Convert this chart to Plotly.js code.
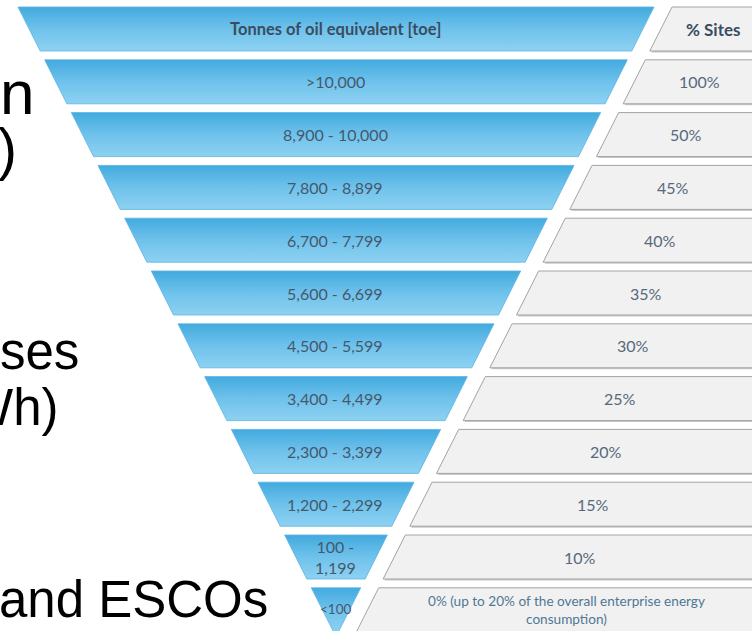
<!DOCTYPE html>
<html><head><meta charset="utf-8">
<script src="https://cdn.plot.ly/plotly-3.0.1.min.js"></script>
<style>html,body{margin:0;padding:0;background:#fff;overflow:hidden}#chart{width:752px;height:631px}</style>
</head><body><div id="chart"></div>
<script>
// ---- data ----
const headerLeft = "Tonnes of oil equivalent [toe]";
const headerRight = "% Sites";
const consumptionBands = [">10,000", "8,900 - 10,000", "7,800 - 8,899", "6,700 - 7,799", "5,600 - 6,699",
  "4,500 - 5,599", "3,400 - 4,499", "2,300 - 3,399", "1,200 - 2,299", "100 -\n1,199", "<100"];
const sitesShare = ["100%", "50%", "45%", "40%", "35%", "30%", "25%", "20%", "15%", "10%",
  "0% (up to 20% of the overall enterprise energy\nconsumption)"];
const slideFragments = ["n", ")", "ses", "Wh)", "and ESCOs"];

// ---- geometry / style ----
const W = 752, H = 631;
const TOP = 7, PITCH = 52.8, ROWH = 44, SLOPE = 0.505, XL0 = 18, XR0 = 654, GAP = 18, GR = 765, GRIGHT = 820;
const esc = s => s.replace(/&/g, '&amp;').replace(/</g, '&lt;').replace(/>/g, '&gt;').replace(/\n/g, '<br>');
const xl = y => XL0 + SLOPE * (y - TOP);
const xr = y => XR0 - SLOPE * (y - TOP);
const gl = y => xr(y) + GAP;

const leftLabels = [headerLeft].concat(consumptionBands);
const rightLabels = [headerRight].concat(sitesShare);

const traces = [];
const annotations = [];
const FONT = 'Lato, "Open Sans", sans-serif';
leftLabels.forEach((lab, r) => {
  const yt = TOP + PITCH * r, yb = yt + ROWH, ym = (yt + yb) / 2;
  // gray shadow + box
  traces.push({type: 'scatter', mode: 'lines', hoverinfo: 'skip',
    x: [gl(yt) + 1.5, GRIGHT, GRIGHT, gl(yb) + 1.5, gl(yt) + 1.5],
    y: [yt + 1.5, yt + 1.5, yb + 1.5, yb + 1.5, yt + 1.5],
    fill: 'toself', fillcolor: '#c9c9c9', line: {width: 0}});
  traces.push({type: 'scatter', mode: 'lines', hoverinfo: 'skip',
    x: [gl(yt), GRIGHT, GRIGHT, gl(yb), gl(yt)],
    y: [yt, yt, yb, yb, yt],
    fill: 'toself', fillcolor: '#f1f1f1', line: {width: 1, color: '#a3a3a3'}});
  // blue trapezoid with vertical gradient (darker at the top, lighter below)
  const xb1 = xl(yb), xb2 = Math.max(xr(yb), xb1);
  traces.push({type: 'scatter', mode: 'lines', hoverinfo: 'skip',
    x: [xl(yt), xr(yt), xb2, xb1, xl(yt)],
    y: [yt, yt, yb, yb, yt],
    fill: 'toself', fillcolor: '#6cc0ea',
    fillgradient: {type: 'vertical', start: yt, stop: yb,
      colorscale: [[0, '#42aade'], [0.5, '#6fc2ec'], [1, '#8dd1f1']]},
    line: {width: 0.8, color: '#5ab4e2'}});
  const isHeader = r === 0;
  const isLast = r === leftLabels.length - 1;
  annotations.push({xref: 'x', yref: 'y', x: 335, y: isLast ? ym - 1 : ym, text: isHeader ? '<b>' + esc(lab) + '</b>' : esc(lab),
    showarrow: false, xanchor: 'center', yanchor: 'middle',
    font: {family: FONT, size: isHeader ? 16.5 : (isLast ? 13.5 : 16), color: isHeader ? '#3a4d60' : '#44596c'}});
  const rlab = rightLabels[r];
  annotations.push({xref: 'x', yref: 'y', x: (gl(ym) + GR) / 2, y: ym, text: isHeader ? '<b>' + esc(rlab) + '</b>' : esc(rlab),
    showarrow: false, xanchor: 'center', yanchor: 'middle',
    font: {family: FONT, size: isHeader ? 17 : (isLast ? 13.6 : 16), color: isLast ? '#4f7894' : (isHeader ? '#3a4d60' : '#56697c')}});
});

// slide text fragments on the left (cut by the picture edge)
const fragPos = [
  {x: -1, y: 92, size: 62},
  {x: -3, y: 149, size: 57},
  {x: -1, y: 351, size: 51},
  {x: -36, y: 407, size: 51},
  {x: -2, y: 599, size: 51}
];
slideFragments.forEach((t, i) => {
  const p = fragPos[i];
  annotations.push({xref: 'paper', yref: 'y', x: p.x / W, y: p.y, text: esc(t), showarrow: false,
    xanchor: 'left', yanchor: 'middle', borderpad: 0,
    font: {family: '"Liberation Sans", Arial, sans-serif', size: p.size, color: '#000000'}});
});

const layout = {
  width: W, height: H, margin: {l: 0, r: 0, t: 0, b: 0, pad: 0},
  paper_bgcolor: '#ffffff', plot_bgcolor: '#ffffff', showlegend: false,
  xaxis: {range: [0, W], visible: false, fixedrange: true},
  yaxis: {range: [H, 0], visible: false, fixedrange: true},
  annotations: annotations
};
Plotly.newPlot('chart', traces, layout, {staticPlot: true, displayModeBar: false});
</script></body></html>
